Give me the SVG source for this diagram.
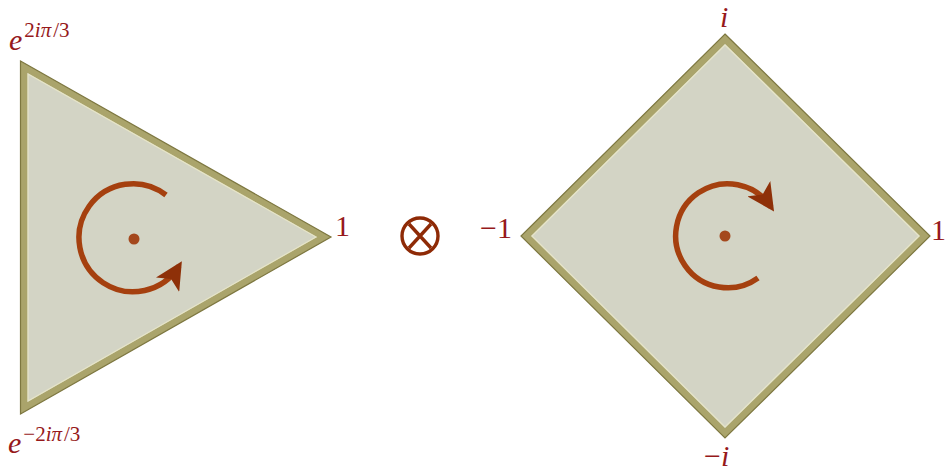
<svg xmlns="http://www.w3.org/2000/svg" width="945" height="471" viewBox="0 0 945 471">
<defs>
<style>
.lbl{font-family:"Liberation Serif",serif;fill:#96191b;font-size:30px}
.it{font-style:italic}
.sup{font-size:21px}
.shape{fill:#d3d4c5;stroke:#aaa46b;stroke-width:7;stroke-linejoin:miter}
.edge{fill:none;stroke:#7d7740;stroke-width:1.2;stroke-linejoin:miter}
.inner{fill:none;stroke:#ebe8c8;stroke-width:1.2;stroke-linejoin:miter;opacity:0.8}
.rot{fill:none;stroke:#a5400f;stroke-width:5.5;stroke-linecap:butt}
.dot{fill:#a4481d}
</style>
<marker id="ah" viewBox="0 0 10 10" refX="8" refY="5" markerWidth="5" markerHeight="5" orient="auto" markerUnits="strokeWidth">
<path d="M0,0 L10,5 L0,10 L2.5,5 Z" fill="#8e3008"/>
</marker>
</defs>
<g id="triangle">
<polygon class="shape" points="24,67 24,408 324,237"/>
<polygon class="edge" points="20.5,61 20.5,414 331,237"/>
<polygon class="inner" points="28,74 28,401 316,237"/>
<path class="rot" d="M166,195 A54,54 0 1 0 179,266" marker-end="url(#ah)"/>
<circle class="dot" cx="134" cy="239" r="5.5"/>
</g>
<g id="diamond">
<polygon class="shape" points="725,39 925,236 725,433 526,236"/>
<polygon class="edge" points="725,34 930,236 725,438 521,236"/>
<polygon class="inner" points="725,45 919,236 725,427 532,236"/>
<path class="rot" d="M758,278 A52,52 0 1 1 771,207" marker-end="url(#ah)"/>
<circle class="dot" cx="725" cy="236" r="5.5"/>
</g>
<g id="otimes">
<circle cx="420" cy="236" r="18" fill="none" stroke="#8e2a06" stroke-width="3.4"/>
<path d="M409,224 L431,248 M431,224 L409,248" stroke="#8e2a06" stroke-width="3.4" fill="none"/>
</g>
<g id="labels">
<text class="lbl" x="9" y="50"><tspan class="it">e</tspan><tspan class="sup" y="37" dx="2"><tspan>2</tspan><tspan class="it">iπ</tspan><tspan dx="2">/3</tspan></tspan></text>
<text class="lbl" x="8" y="453"><tspan class="it">e</tspan><tspan class="sup" y="441" dx="2"><tspan>−2</tspan><tspan class="it">iπ</tspan><tspan dx="2">/3</tspan></tspan></text>
<text class="lbl" x="335" y="236">1</text>
<text class="lbl" x="480" y="238">−1</text>
<text class="lbl" x="931" y="240">1</text>
<text class="lbl it" x="720" y="27">i</text>
<text class="lbl" x="704" y="466">−<tspan class="it">i</tspan></text>
</g>
</svg>
